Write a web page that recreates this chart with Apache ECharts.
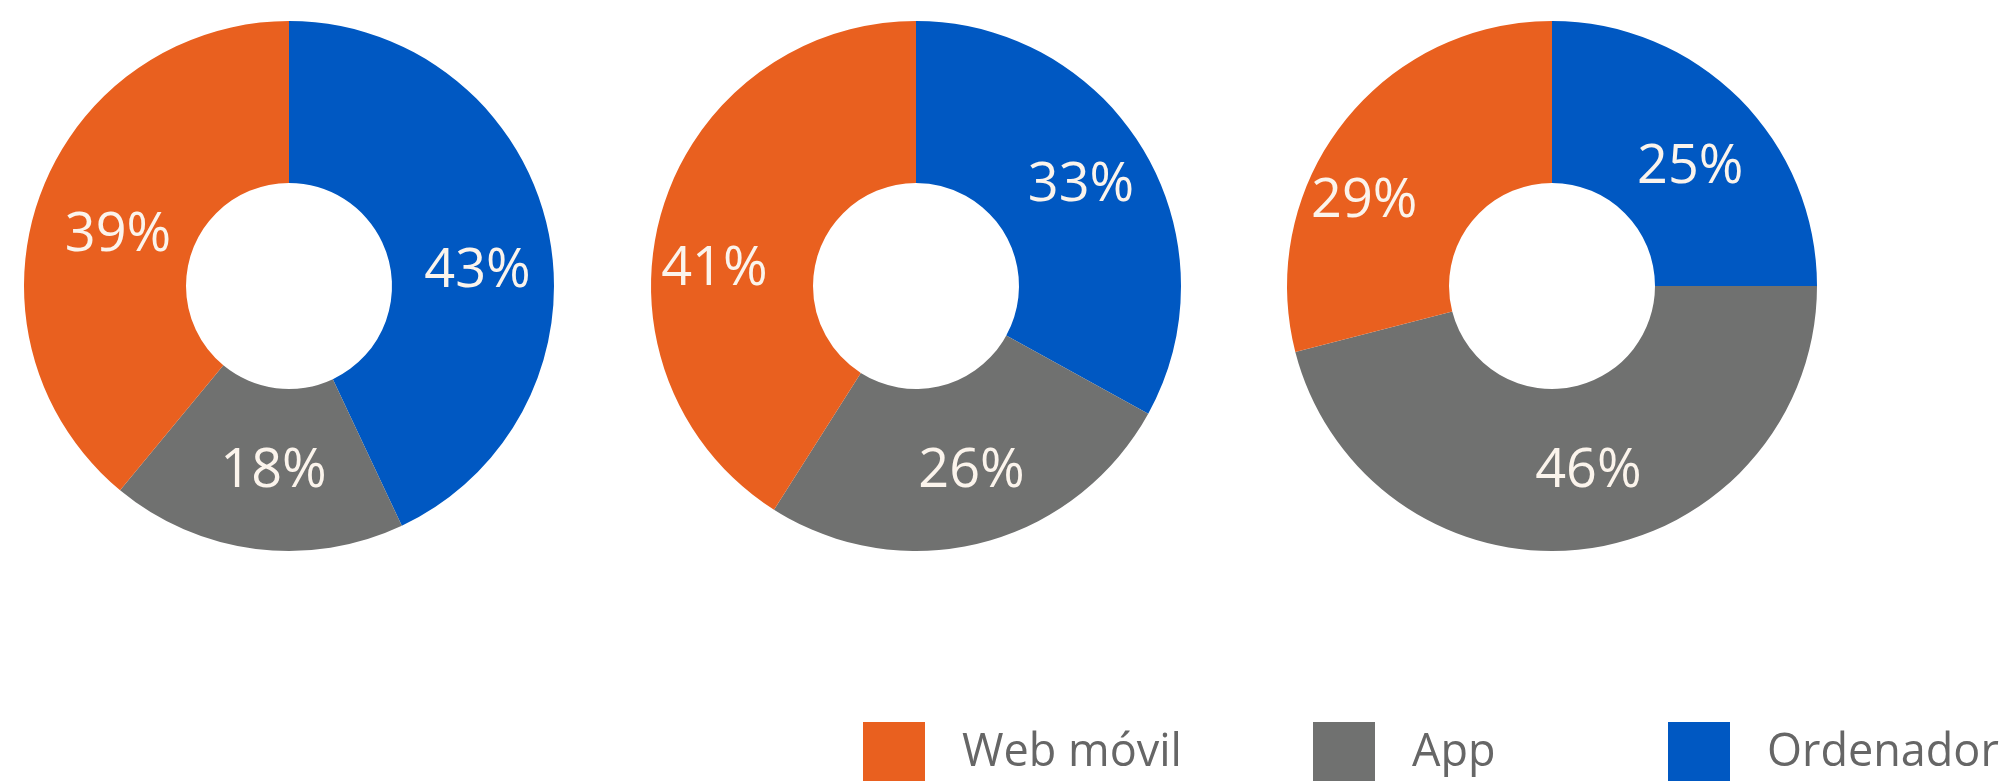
<!DOCTYPE html>
<html>
<head>
<meta charset="utf-8">
<script src="https://cdn.jsdelivr.net/npm/echarts@6/dist/echarts.min.js"></script>
<style>
  html, body { margin: 0; padding: 0; background: #ffffff; }
  #chart { width: 2014px; height: 781px; }
</style>
</head>
<body>
<div id="chart"></div>
<script>
// Data
const categories = ['Ordenador', 'App', 'Web móvil'];
const chart1Values = [43, 18, 39];
const chart2Values = [33, 26, 41];
const chart3Values = [25, 46, 29];
const legendOrder = ['Web móvil', 'App', 'Ordenador'];

// Styles
const colors = { 'Ordenador': '#0058c2', 'App': '#707170', 'Web móvil': '#e9601f' };
const centers = [[289, 286], [916, 286], [1552, 286]];
const legendLefts = [858, 1308, 1663];
// small label nudges (style only), per chart, per category
const labelNudges = [
  [[6, 26], [8, 0], [5, 13]],
  [[4, -5], [9, 4], [-22, 36]],
  [[6, 14], [13, 0], [-40, 30]]
];

function buildData(values, k) {
  return categories.map((name, i) => ({
    name: name,
    value: values[i],
    itemStyle: { color: colors[name] },
    label: { offset: labelNudges[k][i] }
  }));
}

const allValues = [chart1Values, chart2Values, chart3Values];

const series = allValues.map((vals, k) => ({
  type: 'pie',
  center: centers[k],
  radius: [103, 265],
  startAngle: 90,
  clockwise: true,
  avoidLabelOverlap: false,
  silent: true,
  animation: false,
  itemStyle: { borderWidth: 0 },
  label: {
    show: true,
    position: 'inside',
    formatter: '{c}%',
    fontFamily: 'Open Sans',
    fontSize: 54,
    color: '#fbf4ec'
  },
  labelLine: { show: false },
  emphasis: { disabled: true },
  data: buildData(vals, k)
}));

const legends = legendOrder.map((name, i) => ({
  data: [name],
  left: legendLefts[i],
  top: 717,
  orient: 'horizontal',
  icon: 'rect',
  itemWidth: 62,
  itemHeight: 62,
  itemGap: 0,
  selectedMode: false,
  textStyle: {
    fontFamily: 'Open Sans',
    fontSize: 45,
    color: '#666666',
    padding: [0, 0, 0, 32]
  }
}));

const chart = echarts.init(document.getElementById('chart'), null, { renderer: 'canvas' });
chart.setOption({
  backgroundColor: '#ffffff',
  animation: false,
  legend: legends,
  series: series
});
</script>
</body>
</html>
